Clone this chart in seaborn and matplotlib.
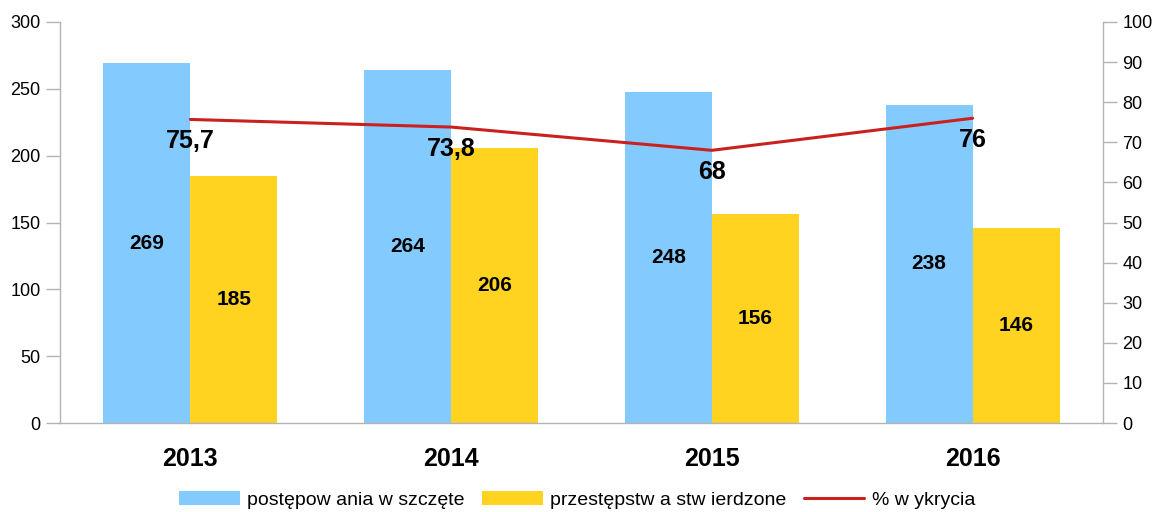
import pandas as pd
import numpy as np
import matplotlib
matplotlib.use('Agg')
import matplotlib.pyplot as plt
import seaborn as sns
from matplotlib.patches import Patch
from matplotlib.lines import Line2D

# dane z wykresu
lata = ['2013', '2014', '2015', '2016']
postepowania = [269, 264, 248, 238]
przestepstwa = [185, 206, 156, 146]
wykrycia = [75.7, 73.8, 68, 76]
wykrycia_txt = ['75,7', '73,8', '68', '76']
serie = ['postępow ania w szczęte', 'przestępstw a stw ierdzone']
linia_nazwa = '% w ykrycia'

kolory = ['#83CAFF', '#FFD320']
czerwony = '#C9211E'
szary = '#B3B3B3'

sns.set_style('white')
plt.rcParams['font.family'] = ['Liberation Sans', 'DejaVu Sans']
plt.rcParams['text.color'] = 'black'
plt.rcParams['xtick.color'] = 'black'
plt.rcParams['ytick.color'] = 'black'

df = pd.DataFrame({
    'rok': lata * 2,
    'wartosc': postepowania + przestepstwa,
    'seria': [serie[0]] * 4 + [serie[1]] * 4,
})

fig = plt.figure(figsize=(11.55, 5.12), dpi=100)
ax = fig.add_axes([60 / 1155, 89 / 512, 1043 / 1155, 401 / 512])

sns.barplot(data=df, x='rok', y='wartosc', hue='seria', palette=kolory,
            saturation=1, width=0.667, linewidth=0, ax=ax, legend=False)

ax.set_xlim(-0.5, 3.5)
ax.set_ylim(0, 300)
ax.set_yticks(range(0, 301, 50))
ax.set_xlabel('')
ax.set_ylabel('')

# etykiety w srodku slupkow
for cont in ax.containers:
    for b in cont:
        h = b.get_height()
        ax.text(b.get_x() + b.get_width() / 2, h / 2, f'{h:.0f}',
                ha='center', va='center', fontsize=15, fontweight='bold')

# os x: kreski na granicach kategorii
ax.set_xticks(np.arange(4))
ax.set_xticklabels(lata, fontsize=18, fontweight='bold')
ax.set_xticks(np.arange(-0.5, 4, 1), minor=True)
ax.tick_params(axis='x', which='major', length=0, pad=17, colors='black')
ax.tick_params(axis='x', which='minor', length=10, color=szary, width=1)
ax.tick_params(axis='y', length=10, color=szary, labelcolor='black', width=1, labelsize=13, pad=4, left=True)

for s in ['top', 'right']:
    ax.spines[s].set_visible(False)
for s in ['left', 'bottom']:
    ax.spines[s].set_color(szary)
    ax.spines[s].set_linewidth(1)

# druga os - procent wykrycia
ax2 = ax.twinx()
sns.lineplot(x=np.arange(4), y=wykrycia, color=czerwony, linewidth=2.2, ax=ax2)
ax2.set_ylim(0, 100)
ax2.set_yticks(range(0, 101, 10))
ax2.tick_params(axis='y', length=10, color=szary, labelcolor='black', width=1, labelsize=13, pad=4, right=True)
for s in ['top', 'left', 'bottom']:
    ax2.spines[s].set_visible(False)
ax2.spines['right'].set_color(szary)
ax2.spines['right'].set_linewidth(1)
ax2.set_xlim(-0.5, 3.5)

for i, (v, t) in enumerate(zip(wykrycia, wykrycia_txt)):
    ax2.annotate(t, (i, v), xytext=(0, -22), textcoords='offset pixels',
                 ha='center', va='center', fontsize=18, fontweight='bold')

uchwyty = [Patch(facecolor=kolory[0], edgecolor='none'),
           Patch(facecolor=kolory[1], edgecolor='none'),
           Line2D([0], [0], color=czerwony, linewidth=2.2)]
fig.legend(uchwyty, serie + [linia_nazwa], loc='center', bbox_to_anchor=(0.5, 12 / 512),
           ncol=3, frameon=False, fontsize=14, handlelength=3.1, handleheight=0.7,
           columnspacing=0.9, handletextpad=0.4)

fig.savefig('out.png', dpi=100)
